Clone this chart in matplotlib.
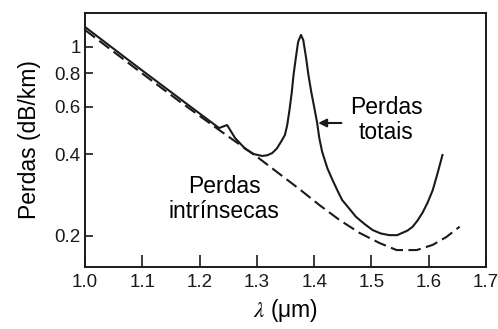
import matplotlib
matplotlib.use("Agg")
import matplotlib.pyplot as plt
from matplotlib.ticker import FixedLocator, FixedFormatter, NullLocator

# Total attenuation of a silica fibre (dB/km) versus wavelength (um)
wl_total = [1.000, 1.094, 1.164, 1.234, 1.248, 1.262, 1.280, 1.295, 1.309,
            1.318, 1.327, 1.335, 1.342, 1.349, 1.353, 1.357, 1.361, 1.364,
            1.368, 1.372, 1.377, 1.381, 1.386, 1.390, 1.395, 1.400, 1.405,
            1.409, 1.414, 1.423, 1.432, 1.441, 1.449, 1.462, 1.473, 1.488,
            1.502, 1.516, 1.531, 1.545, 1.554, 1.563, 1.572, 1.580, 1.589,
            1.598, 1.607, 1.615, 1.624]
loss_total = [1.186, 0.836, 0.647, 0.501, 0.514, 0.460, 0.419, 0.401, 0.395,
              0.397, 0.405, 0.421, 0.445, 0.472, 0.514, 0.585, 0.681, 0.788,
              0.910, 1.044, 1.108, 1.061, 0.910, 0.788, 0.681, 0.600, 0.527,
              0.460, 0.409, 0.356, 0.322, 0.293, 0.271, 0.251, 0.235, 0.221,
              0.210, 0.204, 0.201, 0.201, 0.205, 0.209, 0.216, 0.227, 0.243,
              0.265, 0.295, 0.338, 0.398]

# Intrinsic losses (Rayleigh scattering + infrared absorption)
wl_intr = [1.000, 1.094, 1.164, 1.234, 1.301, 1.374, 1.409, 1.444, 1.479,
           1.514, 1.544, 1.579, 1.607, 1.631, 1.654]
loss_intr = [1.156, 0.815, 0.631, 0.493, 0.391, 0.298, 0.260, 0.229, 0.205,
             0.188, 0.177, 0.177, 0.185, 0.198, 0.216]

x_ticks = [1.0, 1.1, 1.2, 1.3, 1.4, 1.5, 1.6, 1.7]
x_tick_labels = ["1.0", "1.1", "1.2", "1.3", "1.4", "1.5", "1.6", "1.7"]
y_ticks = [0.2, 0.4, 0.6, 0.8, 1.0]
y_tick_labels = ["0.2", "0.4", "0.6", "0.8", "1"]

plt.rcParams['font.family'] = ['Liberation Sans', 'DejaVu Sans']
plt.rcParams['mathtext.fontset'] = 'stix'

ink = '#1a1a1a'
W, H = 498, 329
fig = plt.figure(figsize=(W / 100, H / 100), dpi=100)
ax = fig.add_axes([85 / W, 1 - 267 / H, (486 - 85) / W, (267 - 13) / H])

ax.plot(wl_total, loss_total, color=ink, lw=1.5, solid_joinstyle='round')
intr_line, = ax.plot(wl_intr, loss_intr, color=ink, lw=1.5)
intr_line.set_dashes([6, 2.6])

ax.set_yscale('log')
ax.set_xlim(1.0, 1.7)
ax.set_ylim(0.1532, 1.336)

ax.xaxis.set_major_locator(FixedLocator(x_ticks))
ax.xaxis.set_major_formatter(FixedFormatter(x_tick_labels))
ax.yaxis.set_major_locator(FixedLocator(y_ticks))
ax.yaxis.set_major_formatter(FixedFormatter(y_tick_labels))
ax.yaxis.set_minor_locator(NullLocator())
ax.xaxis.set_minor_locator(NullLocator())

ax.tick_params(axis='x', direction='in', length=9, width=1.2, colors=ink,
               labelsize=13.5, pad=5)
ax.tick_params(axis='y', direction='in', length=6, width=1.2, colors=ink,
               labelsize=13.5, pad=3)
for sp in ax.spines.values():
    sp.set_linewidth(1.4)
    sp.set_color(ink)

ax.set_xlabel(r"$\lambda$ (μm)", fontsize=16.5, color='black', labelpad=4)
ax.set_ylabel("Perdas (dB/km)", fontsize=16.5, color='black', labelpad=10)

ax.text(1.526, 0.537, "Perdas\ntotais", fontsize=16.5, ha='center',
        va='center', linespacing=1.15)
ax.text(1.243, 0.2735, "Perdas\nintrínsecas", fontsize=16.5, ha='center',
        va='center', linespacing=1.15)
ax.annotate("", xy=(1.407, 0.523), xytext=(1.4476, 0.523),
            arrowprops=dict(arrowstyle='-|>', color=ink, lw=1.5,
                            mutation_scale=12, shrinkA=0, shrinkB=0))

fig.savefig("out.png", dpi=100, facecolor='white')
